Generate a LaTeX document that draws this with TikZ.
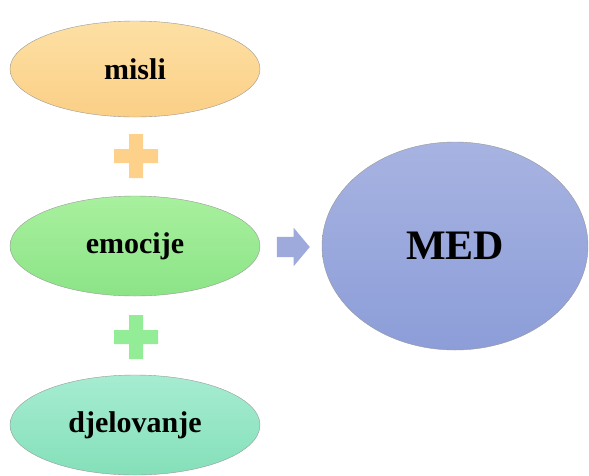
\documentclass[tikz,border=0pt]{standalone}
\usepackage{fontspec}
\setmainfont{Liberation Serif}
\usetikzlibrary{shapes.geometric,shapes.arrows}

\definecolor{mislitop}{HTML}{FDE0A4}
\definecolor{mislibot}{HTML}{FBCF86}
\definecolor{emotop}{HTML}{A8F09E}
\definecolor{emobot}{HTML}{8CE487}
\definecolor{djeltop}{HTML}{A6ECD2}
\definecolor{djelbot}{HTML}{84E0B9}
\definecolor{medtop}{HTML}{A7B3E1}
\definecolor{medbot}{HTML}{8C9DD8}
\definecolor{plusorange}{HTML}{FDD18A}
\definecolor{plusgreen}{HTML}{93EC96}
\definecolor{arrowblue}{HTML}{9DAADB}

\begin{document}
\begin{tikzpicture}[x=1pt,y=-1pt]
\useasboundingbox (0,0) rectangle (589,475);
\begin{scope}[every node/.style={ellipse,draw=black!40,thin,inner sep=0pt,
              font=\fontsize{30}{36}\selectfont\bfseries}]
    \node[top color=mislitop,bottom color=mislibot,minimum width=250pt,minimum height=96pt] (misli) at (135,69) {misli};
    \node[top color=emotop,bottom color=emobot,minimum width=250pt,minimum height=100pt] (emocije) at (135,246) {emocije};
    \node[top color=djeltop,bottom color=djelbot,minimum width=250pt,minimum height=100pt] (djel) at (135,425) {djelovanje};
    \node[top color=medtop,bottom color=medbot,minimum width=266pt,minimum height=208pt,
          font=\fontsize{42}{48}\selectfont\bfseries] (med) at (455,246) {MED};
\end{scope}
\begin{scope}[every node/.style={inner sep=0pt}]
    \coordinate (plus1) at (136,156);
    \coordinate (plus2) at (136,337);
    \node[single arrow,fill=arrowblue,inner sep=10pt,minimum height=33pt,
          single arrow head extend=9pt,single arrow tip angle=100] (arrow) at (289,247) {};
\end{scope}
\fill[plusorange] ([shift={(-22,-7)}]plus1) rectangle ([shift={(22,7)}]plus1)
                  ([shift={(-7,-22)}]plus1) rectangle ([shift={(7,22)}]plus1);
\fill[plusgreen] ([shift={(-22,-7)}]plus2) rectangle ([shift={(22,7)}]plus2)
                 ([shift={(-7,-22)}]plus2) rectangle ([shift={(7,22)}]plus2);
\end{tikzpicture}
\end{document}
